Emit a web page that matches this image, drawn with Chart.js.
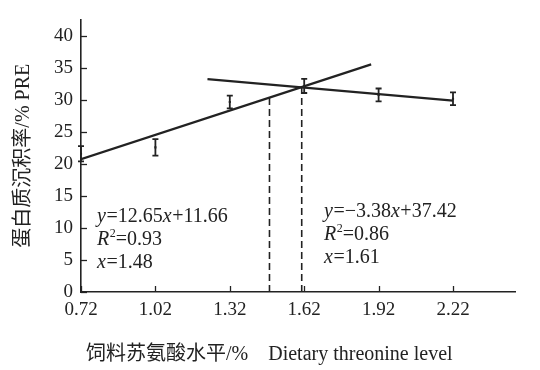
<!DOCTYPE html>
<html>
<head>
<meta charset="utf-8">
<script src="https://cdn.jsdelivr.net/npm/chart.js@4/dist/chart.umd.min.js"></script>
<style>
  html, body { margin: 0; padding: 0; background: #fff; }
  #wrap { width: 540px; height: 370px; }
</style>
</head>
<body>
<div id="wrap"><canvas id="c"></canvas></div>
<script>
// Dietary threonine level (%) and protein retention efficiency (PRE, %)
const levels = [0.72, 1.02, 1.32, 1.62, 1.92, 2.22];
const pre    = [21.6, 22.6, 29.7, 32.2, 30.8, 30.2];
const preSd  = [1.2, 1.3, 1.0, 1.1, 1.0, 1.0];

// Axis tick values
const xTicks = [0.72, 1.02, 1.32, 1.62, 1.92, 2.22];
const yTicks = [0, 5, 10, 15, 20, 25, 30, 35, 40];

// Broken-line fit: rising segment and plateau segment
const fitSlope     = [12.65, -3.38];
const fitIntercept = [11.66, 37.42];
const fitR2        = ['0.93', '0.86'];
const fitBreak     = [1.48, 1.61];
const fitFrom      = [0.72, 1.23];
const fitTo        = [1.89, 2.22];

const INK = '#222';
const SERIF = '"Liberation Serif", "Times New Roman", serif';
const TITLE_FONT = '"Liberation Serif", "Noto Sans CJK SC", serif';

const fitLine = i => [fitFrom[i], fitTo[i]].map(v => ({ x: v, y: fitSlope[i] * v + fitIntercept[i] }));
const breakLine = i => [{ x: fitBreak[i], y: 0 }, { x: fitBreak[i], y: fitSlope[i] * fitBreak[i] + fitIntercept[i] }];

// Equation labels: [x, y] anchors in data units, then rich-text runs
const eqLabels = [
  { at: [0.785, 11.7], runs: [['y', true], ['=12.65', false], ['x', true], ['+11.66', false]] },
  { at: [0.785, 8.1],  runs: [['R', true], ['2', false, true], ['=' + fitR2[0], false]] },
  { at: [0.785, 4.6],  runs: [['x', true], ['=' + fitBreak[0].toFixed(2), false]] },
  { at: [1.70, 12.5],  runs: [['y', true], ['=\u22123.38', false], ['x', true], ['+37.42', false]] },
  { at: [1.70, 8.9],   runs: [['R', true], ['2', false, true], ['=' + fitR2[1], false]] },
  { at: [1.70, 5.3],   runs: [['x', true], ['=' + fitBreak[1].toFixed(2), false]] }
];

const extras = {
  id: 'extras',
  afterDatasetsDraw(chart) {
    const { ctx, scales: { x, y } } = chart;
    ctx.save();
    ctx.strokeStyle = INK;
    ctx.lineWidth = 1.3;
    // inward tick marks
    yTicks.forEach(v => {
      const py = Math.round(y.getPixelForValue(v)) + 0.5;
      ctx.beginPath(); ctx.moveTo(x.left, py); ctx.lineTo(x.left + 6, py); ctx.stroke();
    });
    xTicks.forEach(v => {
      const px = Math.round(x.getPixelForValue(v)) + 0.5;
      ctx.beginPath(); ctx.moveTo(px, y.bottom); ctx.lineTo(px, y.bottom - 6); ctx.stroke();
    });
    // error bars
    ctx.lineWidth = 1.8;
    levels.forEach((v, i) => {
      const px = x.getPixelForValue(v);
      const hi = y.getPixelForValue(pre[i] + preSd[i]);
      const lo = y.getPixelForValue(pre[i] - preSd[i]);
      ctx.beginPath();
      ctx.moveTo(px, hi); ctx.lineTo(px, lo);
      ctx.moveTo(px - 3, hi); ctx.lineTo(px + 3, hi);
      ctx.moveTo(px - 3, lo); ctx.lineTo(px + 3, lo);
      ctx.stroke();
    });
    // regression equations
    ctx.fillStyle = INK;
    ctx.textBaseline = 'middle';
    ctx.textAlign = 'left';
    eqLabels.forEach(lbl => {
      let px = x.getPixelForValue(lbl.at[0]);
      const py = y.getPixelForValue(lbl.at[1]);
      lbl.runs.forEach(([t, italic, sup]) => {
        ctx.font = (italic ? 'italic ' : '') + (sup ? '12px ' : '20px ') + SERIF;
        ctx.fillText(t, px, sup ? py - 6 : py);
        px += ctx.measureText(t).width + (italic ? 0.5 : 0);
      });
    });
    ctx.restore();
  }
};

new Chart(document.getElementById('c'), {
  type: 'scatter',
  data: {
    datasets: [
      { data: fitLine(0), showLine: true, borderColor: INK, borderWidth: 2.2, pointRadius: 0 },
      { data: fitLine(1), showLine: true, borderColor: INK, borderWidth: 2.2, pointRadius: 0 },
      { data: breakLine(0), showLine: true, borderColor: INK, borderWidth: 1.6, borderDash: [7, 4], pointRadius: 0 },
      { data: breakLine(1), showLine: true, borderColor: INK, borderWidth: 1.6, borderDash: [7, 4], pointRadius: 0 },
      { data: levels.map((v, i) => ({ x: v, y: pre[i] })), pointRadius: 1.5, pointStyle: 'rect',
        backgroundColor: INK, borderColor: INK, borderWidth: 0 }
    ]
  },
  options: {
    responsive: true,
    maintainAspectRatio: false,
    animation: false,
    layout: { padding: { top: 12, right: 25, left: 0, bottom: 0 } },
    plugins: { legend: { display: false }, tooltip: { enabled: false } },
    scales: {
      x: {
        type: 'linear',
        min: 0.72,
        max: 2.47,
        afterBuildTicks: s => { s.ticks = xTicks.map(v => ({ value: v })); },
        afterFit: s => { s.height = 78; },
        grid: { display: false, drawTicks: false },
        border: { display: true, color: INK, width: 1.6 },
        ticks: {
          padding: 7,
          color: INK,
          font: { family: SERIF, size: 19 },
          callback: v => Number(v).toFixed(2),
          maxRotation: 0
        },
        title: {
          display: true,
          text: ' 饲料苏氨酸水平/%    Dietary threonine level',
          align: 'start',
          color: INK,
          font: { family: TITLE_FONT, size: 20 },
          padding: { top: 0, bottom: 3 }
        }
      },
      y: {
        min: 0,
        max: 42.6,
        afterBuildTicks: s => { s.ticks = yTicks.map(v => ({ value: v })); },
        afterFit: s => { s.width = 81; },
        grid: { display: false, drawTicks: false },
        border: { display: true, color: INK, width: 1.6 },
        ticks: { padding: 8, color: INK, font: { family: SERIF, size: 19 } },
        title: {
          display: true,
          text: '蛋白质沉积率/% PRE',
          color: INK,
          font: { family: TITLE_FONT, size: 20 },
          padding: { top: 12, bottom: 0 }
        }
      }
    }
  },
  plugins: [extras]
});
</script>
</body>
</html>
